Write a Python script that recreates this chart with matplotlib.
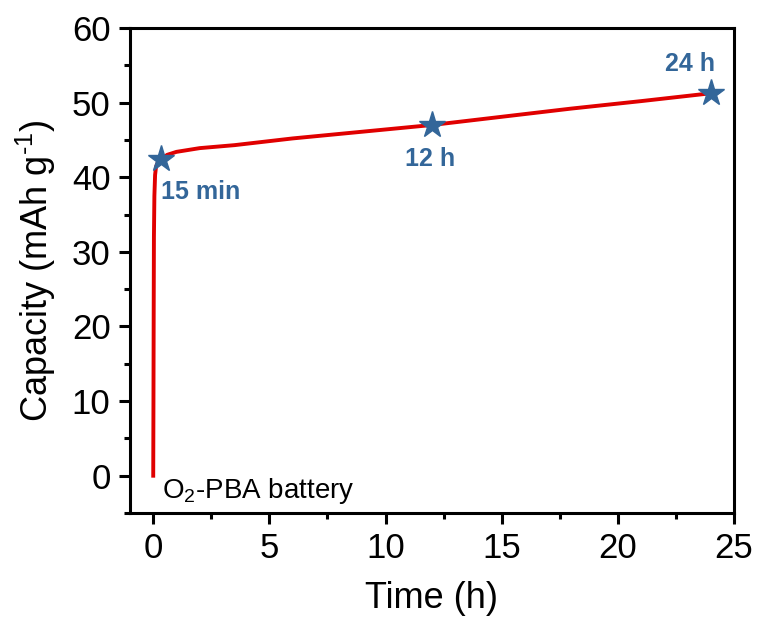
import matplotlib.pyplot as plt
from matplotlib.ticker import MultipleLocator

plt.rcParams['font.family'] = ['Liberation Sans', 'DejaVu Sans']
plt.rcParams['mathtext.fontset'] = 'custom'
plt.rcParams['mathtext.rm'] = 'Liberation Sans'
plt.rcParams['mathtext.it'] = 'Liberation Sans:italic'
plt.rcParams['mathtext.bf'] = 'Liberation Sans:bold'

# capacity vs time curve
time_h = [0, 0.01, 0.02, 0.03, 0.05, 0.08, 0.12, 0.2, 0.33, 0.6, 1.0, 2.0,
          3.5, 6.0, 9.0, 12.0, 15.0, 18.0, 21.0, 24.0]
capacity = [0, 10, 22, 32, 37.5, 40.3, 41.4, 42.0, 42.4, 43.0, 43.4, 43.9,
            44.3, 45.2, 46.1, 47.0, 48.1, 49.2, 50.2, 51.25]

# marked points
star_t = [0.33, 12.0, 24.0]
star_c = [42.4, 47.0, 51.25]
star_labels = ['15 min', '12 h', '24 h']

fig = plt.figure(figsize=(7.58, 6.22), dpi=100)
ax = fig.add_axes([0.1715, 0.1752, 0.7968, 0.7798])

ax.plot(time_h, capacity, color='#e00000', lw=2.8, zorder=2)
ax.plot(star_t, star_c, ls='none', marker='*', ms=20, color='#336699', zorder=3)

blue = '#336699'
ax.text(0.35, 39.6, star_labels[0], color=blue, fontsize=18, fontweight='bold', ha='left', va='top')
ax.text(11.9, 44.0, star_labels[1], color=blue, fontsize=18, fontweight='bold', ha='center', va='top')
ax.text(23.1, 53.6, star_labels[2], color=blue, fontsize=18, fontweight='bold', ha='center', va='bottom')
ax.text(0.37, -2.0, 'O$_2$-PBA battery', fontsize=20, ha='left', va='center')

ax.set_xlim(-1, 25)
ax.set_ylim(-5, 60)
ax.xaxis.set_major_locator(MultipleLocator(5))
ax.xaxis.set_minor_locator(MultipleLocator(2.5))
ax.yaxis.set_major_locator(MultipleLocator(10))
ax.yaxis.set_minor_locator(MultipleLocator(5))

for s in ax.spines.values():
    s.set_linewidth(2.2)
ax.tick_params(which='major', direction='out', length=8, width=2.2, labelsize=25, pad=6)
ax.tick_params(which='minor', direction='out', length=4, width=2.2)
ax.tick_params(top=False, right=False)

ax.set_xlabel('Time (h)', fontsize=26, labelpad=11)
ax.set_ylabel('Capacity (mAh g$^{\\text{-1}}$)', fontsize=26, labelpad=10)

fig.savefig('out.png', dpi=100)
